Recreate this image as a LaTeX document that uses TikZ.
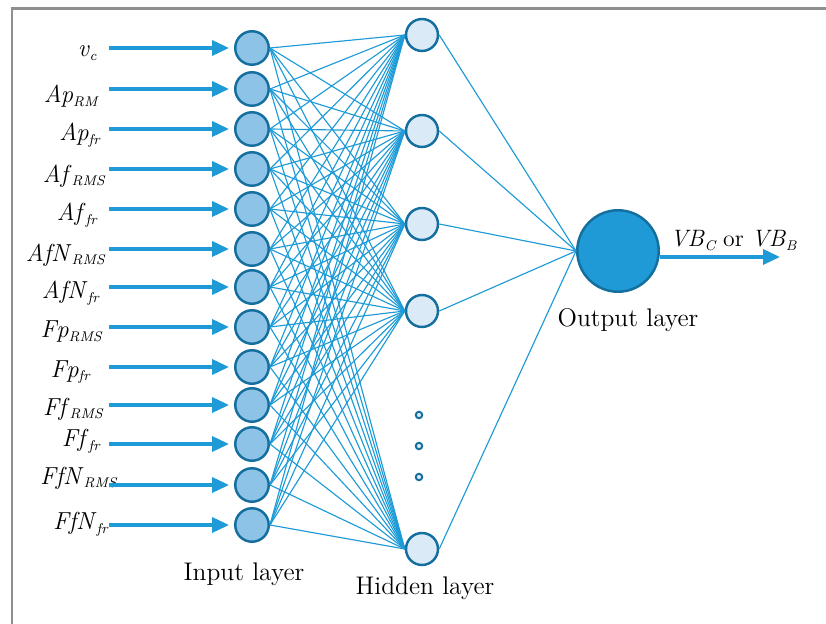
\documentclass[tikz,border=0pt]{standalone}
\usetikzlibrary{arrows.meta,calc}
\definecolor{wire}{HTML}{1E9BD7}
\definecolor{rim}{HTML}{156F9E}
\definecolor{infill}{HTML}{8DC3E7}
\definecolor{hidfill}{HTML}{DAEAF7}
\definecolor{outfill}{HTML}{1F9AD6}
\definecolor{boxgray}{HTML}{8F8F8F}
\newcommand{\lsub}[1]{\raisebox{-0.35ex}{\fontsize{8}{9}\selectfont\itshape #1}}
\tikzset{
  inneuron/.style={circle, draw=rim, line width=1.4pt, fill=infill,
                   minimum size=0.67cm, inner sep=0pt},
  hidneuron/.style={circle, draw=rim, line width=1.4pt, fill=hidfill,
                    minimum size=0.64cm, inner sep=0pt},
  outneuron/.style={circle, draw=rim, line width=1.4pt, fill=outfill,
                    minimum size=1.63cm, inner sep=0pt},
  dotneuron/.style={circle, draw=rim, line width=1.1pt, fill=hidfill,
                    minimum size=0.13cm, inner sep=0pt},
  inlbl/.style={anchor=east, inner sep=0pt, font=\fontsize{14}{16}\selectfont},
  layerlbl/.style={font=\fontsize{14.5}{17}\selectfont},
  link/.style={draw=wire, line width=0.65pt},
  inarr/.style={-{Triangle[length=0.34cm,width=0.3cm]}, line width=2pt,
                color=wire, shorten >=0.1cm}}

\begin{document}
\begin{tikzpicture}[x=0.02cm, y=-0.02cm]
  \useasboundingbox (0,0) rectangle (826,624);
  % open frame, top and left edges only
  \draw[boxgray, line width=0.06cm] (826,9) -- (12,9) -- (12,624);

  % input layer
  \node[inneuron] (in1)  at (252,48)  {};
  \node[inneuron] (in2)  at (252,89)  {};
  \node[inneuron] (in3)  at (252,129) {};
  \node[inneuron] (in4)  at (252,169) {};
  \node[inneuron] (in5)  at (252,209) {};
  \node[inneuron] (in6)  at (252,249) {};
  \node[inneuron] (in7)  at (252,287) {};
  \node[inneuron] (in8)  at (252,327) {};
  \node[inneuron] (in9)  at (252,367) {};
  \node[inneuron] (in10) at (252,405) {};
  \node[inneuron] (in11) at (252,444) {};
  \node[inneuron] (in12) at (252,485) {};
  \node[inneuron] (in13) at (252,525) {};

  \node[inlbl] (l1)  at (97,53)   {\textit{v}\lsub{c}};
  \node[inlbl] (l2)  at (98,96)   {\textit{Ap}\lsub{RM}};
  \node[inlbl] (l3)  at (100,135) {\textit{Ap}\lsub{fr}};
  \node[inlbl] (l4)  at (105,176) {\textit{Af}\lsub{RMS}};
  \node[inlbl] (l5)  at (97,215)  {\textit{Af}\lsub{fr}};
  \node[inlbl] (l6)  at (105,255) {\textit{AfN}\lsub{RMS}};
  \node[inlbl] (l7)  at (99,293)  {\textit{AfN}\lsub{fr}};
  \node[inlbl] (l8)  at (102,332) {\textit{Fp}\lsub{RMS}};
  \node[inlbl] (l9)  at (90,372)  {\textit{Fp}\lsub{fr}};
  \node[inlbl] (l10) at (103,409) {\textit{Ff}\lsub{RMS}};
  \node[inlbl] (l11) at (100,441) {\textit{Ff}\lsub{fr}};
  \node[inlbl] (l12) at (117,478) {\textit{FfN}\lsub{RMS}};
  \node[inlbl] (l13) at (108,524) {\textit{FfN}\lsub{fr}};

  \foreach \i in {1,...,13}
    \coordinate (src\i) at (in\i.center -| 109,0);
  \foreach \i in {1,...,13}
    \draw[inarr] (src\i) -- (in\i.west);

  % hidden layer
  \node[hidneuron] (hid1) at (422,35)  {};
  \node[hidneuron] (hid2) at (422,131) {};
  \node[hidneuron] (hid3) at (422,224) {};
  \node[hidneuron] (hid4) at (422,311) {};
  \node[hidneuron] (hid5) at (422,549) {};
  \node[dotneuron] (gap1) at (419,415) {};
  \node[dotneuron] (gap2) at (419,446) {};
  \node[dotneuron] (gap3) at (419,477) {};

  % output layer
  \node[outneuron] (out) at (618,251) {};
  \coordinate (vb) at (780,257);
  \draw[inarr, shorten >=0pt] (out.east |- vb) -- (vb);
  \node[layerlbl, font=\fontsize{13.5}{16}\selectfont, anchor=base west, inner sep=0pt]
    (vblbl) at (670,247) {\textit{VB}\lsub{C} or \textit{VB}\lsub{B}};

  % full connections
  \foreach \i in {1,...,13}
    \foreach \h in {1,...,5}
      \draw[link] (in\i.east) -- (hid\h.west);
  \foreach \h in {1,...,5}
    \draw[link] (hid\h.east) -- (out.west);

  \node[layerlbl] (inlayer)  at (244,574) {Input layer};
  \node[layerlbl] (hidlayer) at (425,588) {Hidden layer};
  \node[layerlbl] (outlayer) at (628,320) {Output layer};
\end{tikzpicture}
\end{document}
